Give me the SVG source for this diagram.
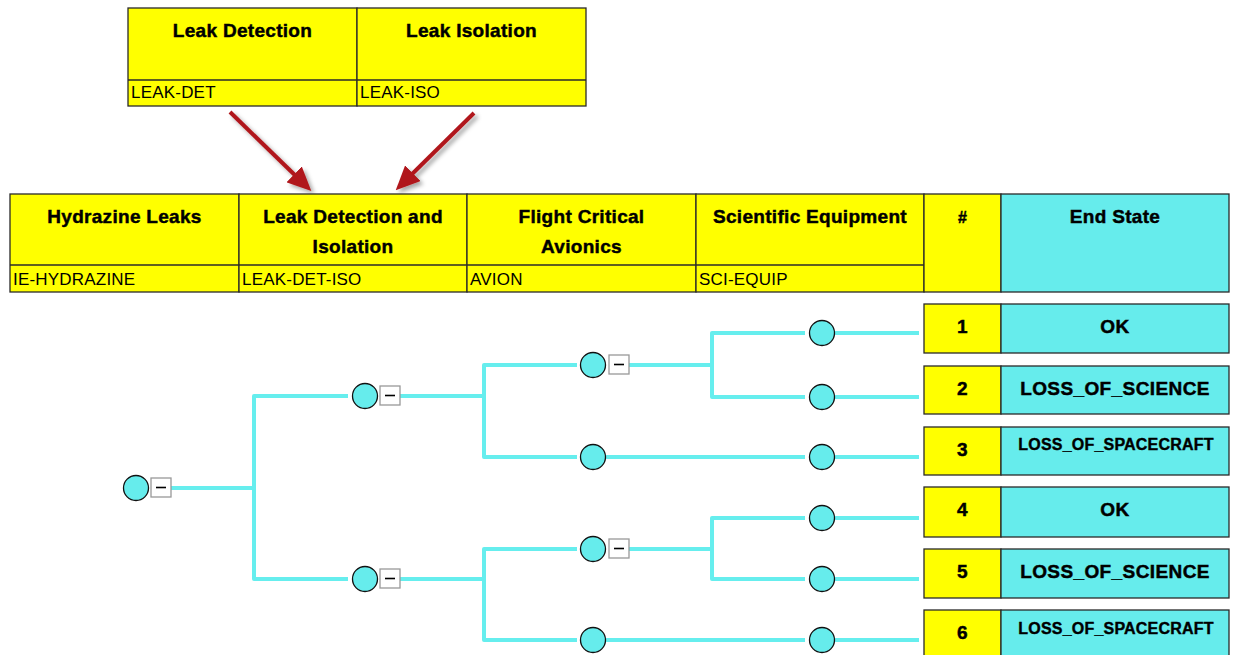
<svg xmlns="http://www.w3.org/2000/svg" width="1233" height="655" viewBox="0 0 1233 655">
<defs>
<style>
.cell{stroke:#2a2a2a;stroke-width:1.3}
.y{fill:#ffff00}
.c{fill:#66ecec}
.hd{font-family:"Liberation Sans",Arial,sans-serif;font-weight:bold;font-size:19px;letter-spacing:0.3px;fill:#000;stroke:#000;stroke-width:0.45;text-anchor:middle}
.code{font-family:"Liberation Sans",Arial,sans-serif;font-size:17px;letter-spacing:0.2px;fill:#000}
.es{font-family:"Liberation Sans",Arial,sans-serif;font-weight:bold;font-size:19px;letter-spacing:0.4px;fill:#000;stroke:#000;stroke-width:0.45;text-anchor:middle}
.es2{font-family:"Liberation Sans",Arial,sans-serif;font-weight:bold;font-size:16px;letter-spacing:0.2px;fill:#000;stroke:#000;stroke-width:0.4;text-anchor:middle}
.br{fill:none;stroke:#66eeee;stroke-width:4;stroke-linejoin:round}
.nd{fill:#66ecec;stroke:#111;stroke-width:1.3}
.bx{fill:#fff;stroke:#999;stroke-width:1.3}
.mn{stroke:#000;stroke-width:1.6}
.arr{stroke:#b0171b;stroke-width:4;fill:none}
</style>
<marker id="ah" viewBox="0 0 24 22" refX="11" refY="11" markerWidth="24" markerHeight="22" markerUnits="userSpaceOnUse" orient="auto">
<path d="M0,0 L24,11 L0,22 Z" fill="#b0171b"/>
</marker>
<filter id="sh" x="-20%" y="-20%" width="150%" height="150%">
<feDropShadow dx="3" dy="3" stdDeviation="2" flood-color="#000" flood-opacity="0.35"/>
</filter>
</defs>
<rect width="1233" height="655" fill="#fff"/>

<g id="top-table">
<rect class="cell y" x="128" y="8" width="229" height="98"/>
<rect class="cell y" x="357" y="8" width="229" height="98"/>
<line class="cell" x1="128" y1="80" x2="586" y2="80"/>
<text class="hd" x="242.5" y="37">Leak Detection</text>
<text class="hd" x="471.5" y="37">Leak Isolation</text>
<text class="code" x="131" y="98">LEAK-DET</text>
<text class="code" x="360" y="98">LEAK-ISO</text>
</g>

<g id="arrows" filter="url(#sh)">
<line class="arr" x1="230" y1="112" x2="302" y2="182" marker-end="url(#ah)"/>
<line class="arr" x1="474" y1="113" x2="405" y2="181" marker-end="url(#ah)"/>
</g>

<g id="main-table">
<rect class="cell y" x="10" y="194" width="229" height="98"/>
<rect class="cell y" x="239" y="194" width="228" height="98"/>
<rect class="cell y" x="467" y="194" width="229" height="98"/>
<rect class="cell y" x="696" y="194" width="228" height="98"/>
<rect class="cell y" x="924" y="194" width="77" height="98"/>
<rect class="cell c" x="1001" y="194" width="228" height="98"/>
<line class="cell" x1="10" y1="265" x2="924" y2="265"/>
<text class="hd" x="124.5" y="223">Hydrazine Leaks</text>
<text class="hd" x="353" y="223">Leak Detection and</text>
<text class="hd" x="353" y="253">Isolation</text>
<text class="hd" x="581.5" y="223">Flight Critical</text>
<text class="hd" x="581.5" y="253">Avionics</text>
<text class="hd" x="810" y="223">Scientific Equipment</text>
<text class="hd" x="962.5" y="223" style="font-size:16px">#</text>
<text class="hd" x="1115" y="223">End State</text>
<text class="code" x="13" y="285">IE-HYDRAZINE</text>
<text class="code" x="242" y="285">LEAK-DET-ISO</text>
<text class="code" x="470" y="285">AVION</text>
<text class="code" x="699" y="285">SCI-EQUIP</text>
</g>

<g id="connectors">
<path class="br" d="M171,488 H254 M348,396 H254 V579 H348"/>
<path class="br" d="M400,396 H484 M577,365 H484 V457 H577"/>
<path class="br" d="M629,365 H712 M805,333 H712 V397 H805"/>
<path class="br" d="M606,457 H805"/>
<path class="br" d="M400,579 H484 M577,549 H484 V640 H577"/>
<path class="br" d="M629,549 H712 M805,518 H712 V579 H805"/>
<path class="br" d="M606,640 H805"/>
<path class="br" d="M835,333 H919 M835,397 H919 M835,457 H919 M835,518 H919 M835,579 H919 M835,640 H919"/>
</g>

<g id="n-root"><circle class="nd" cx="136" cy="488" r="12.5"/><rect class="bx" x="151" y="478" width="20" height="19"/><line class="mn" x1="156" y1="487.5" x2="166" y2="487.5"/></g>
<g id="n-ld-s"><circle class="nd" cx="365" cy="396" r="12.5"/><rect class="bx" x="380" y="386" width="20" height="19"/><line class="mn" x1="385" y1="395.5" x2="395" y2="395.5"/></g>
<g id="n-ld-f"><circle class="nd" cx="365" cy="579" r="12.5"/><rect class="bx" x="380" y="569" width="20" height="19"/><line class="mn" x1="385" y1="578.5" x2="395" y2="578.5"/></g>
<g id="n-av-1"><circle class="nd" cx="593" cy="365" r="12.5"/><rect class="bx" x="609" y="355" width="20" height="19"/><line class="mn" x1="614" y1="364.5" x2="624" y2="364.5"/></g>
<g id="n-av-2"><circle class="nd" cx="593" cy="457" r="12.5"/></g>
<g id="n-av-3"><circle class="nd" cx="593" cy="549" r="12.5"/><rect class="bx" x="609" y="539" width="20" height="19"/><line class="mn" x1="614" y1="548.5" x2="624" y2="548.5"/></g>
<g id="n-av-4"><circle class="nd" cx="593" cy="640" r="12.5"/></g>
<g id="n-sci-1"><circle class="nd" cx="822" cy="333" r="12.5"/></g>
<g id="n-sci-2"><circle class="nd" cx="822" cy="397" r="12.5"/></g>
<g id="n-sci-3"><circle class="nd" cx="822" cy="457" r="12.5"/></g>
<g id="n-sci-4"><circle class="nd" cx="822" cy="518" r="12.5"/></g>
<g id="n-sci-5"><circle class="nd" cx="822" cy="579" r="12.5"/></g>
<g id="n-sci-6"><circle class="nd" cx="822" cy="640" r="12.5"/></g>

<g id="es-1"><rect class="cell y" x="924" y="304" width="77" height="49"/><rect class="cell c" x="1001" y="304" width="228" height="49"/><text class="es" x="962.5" y="333">1</text><text class="es" x="1115" y="333">OK</text></g>
<g id="es-2"><rect class="cell y" x="924" y="366" width="77" height="48"/><rect class="cell c" x="1001" y="366" width="228" height="48"/><text class="es" x="962.5" y="395">2</text><text class="es" x="1115" y="395">LOSS_OF_SCIENCE</text></g>
<g id="es-3"><rect class="cell y" x="924" y="427" width="77" height="48"/><rect class="cell c" x="1001" y="427" width="228" height="48"/><text class="es" x="962.5" y="456">3</text><text class="es2" x="1116" y="450">LOSS_OF_SPACECRAFT</text></g>
<g id="es-4"><rect class="cell y" x="924" y="487" width="77" height="50"/><rect class="cell c" x="1001" y="487" width="228" height="50"/><text class="es" x="962.5" y="516">4</text><text class="es" x="1115" y="516">OK</text></g>
<g id="es-5"><rect class="cell y" x="924" y="549" width="77" height="49"/><rect class="cell c" x="1001" y="549" width="228" height="49"/><text class="es" x="962.5" y="578">5</text><text class="es" x="1115" y="578">LOSS_OF_SCIENCE</text></g>
<g id="es-6"><rect class="cell y" x="924" y="610" width="77" height="49"/><rect class="cell c" x="1001" y="610" width="228" height="49"/><text class="es" x="962.5" y="639">6</text><text class="es2" x="1116" y="634">LOSS_OF_SPACECRAFT</text></g>
</svg>
